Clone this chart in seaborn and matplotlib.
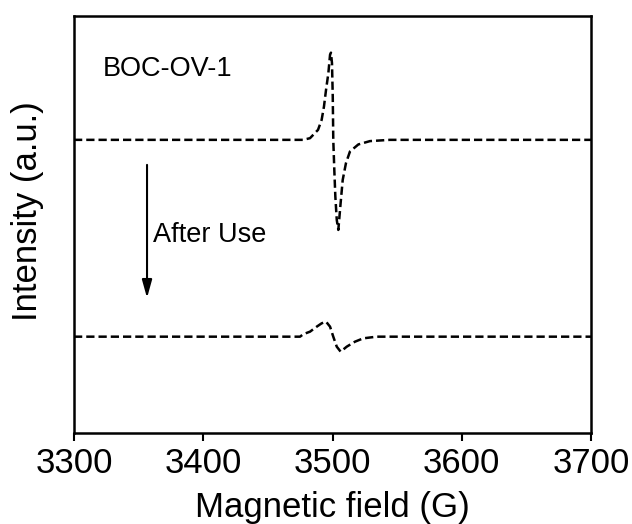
import matplotlib
matplotlib.use("Agg")
import matplotlib.pyplot as plt
import seaborn as sns
import pandas as pd

# ---- data ----
field_before = [3300, 3400, 3460, 3477.2, 3482.6, 3488.8, 3491.6, 3493.4, 3495.0, 3496.8,
                3498.1, 3498.8, 3499.6, 3500.2, 3500.6, 3501.4, 3502.2, 3503.3, 3504.5,
                3506.3, 3507.9, 3510.4, 3513.5, 3520.0, 3529.0, 3544.5, 3600, 3700]
int_before = [70.3, 70.3, 70.3, 70.3, 70.7, 72.7, 75.1, 78.3, 82.3, 86.3,
              90.7, 91.2, 88.7, 80.7, 70.3, 63.1, 56.7, 51.1, 48.7,
              55.2, 60.7, 64.7, 67.5, 69.2, 70.0, 70.3, 70.3, 70.3]

field_after = [3300, 3400, 3474.9, 3477.4, 3482.6, 3487.8, 3491.6, 3495.0, 3498.1,
               3500.6, 3503.3, 3506.3, 3511.0, 3517.4, 3523.8, 3534.2, 3600, 3700]
int_after = [23.1, 23.1, 23.1, 23.7, 24.3, 25.5, 26.3, 26.7, 25.5,
             23.1, 20.7, 19.5, 20.7, 21.9, 22.7, 23.1, 23.1, 23.1]

x_ticks = [3300, 3400, 3500, 3600, 3700]
x_label = "Magnetic field (G)"
y_label = "Intensity (a.u.)"
sample_label = "BOC-OV-1"
arrow_label = "After Use"

# ---- style ----
sns.set_theme(style="ticks")
plt.rcParams["font.family"] = ["Liberation Sans", "DejaVu Sans"]

fig = plt.figure(figsize=(6.32, 5.24), dpi=100)
ax = fig.add_axes([74 / 632, 1 - 433 / 524, (591 - 74) / 632, (433 - 16) / 524])

df_b = pd.DataFrame({"field": field_before, "intensity": int_before})
df_a = pd.DataFrame({"field": field_after, "intensity": int_after})
for df in (df_b, df_a):
    sns.lineplot(data=df, x="field", y="intensity", ax=ax, color="black",
                 linestyle=(0, (3.3, 1.6)), linewidth=1.8, estimator=None, sort=False)

ax.set_xlim(3300, 3700)
ax.set_ylim(0, 100)
ax.set_xticks(x_ticks)
ax.set_xticklabels([str(t) for t in x_ticks], fontsize=25)
ax.set_yticks([])
ax.tick_params(axis="x", direction="out", length=6, width=1.5, pad=4, colors="black")
for s in ax.spines.values():
    s.set_linewidth(1.8)
    s.set_color("black")
    s.set_visible(True)

ax.set_xlabel(x_label, fontsize=25, labelpad=8, color="black")
ax.set_ylabel(y_label, fontsize=25, color="black")
ax.yaxis.set_label_coords(-0.058, 0.531)

ax.text(3322.4, 85.6, sample_label, fontsize=19.5, ha="left", va="baseline", color="black")
ax.text(3361.1, 45.8, arrow_label, fontsize=19.5, ha="left", va="baseline", color="black")
ax.annotate("", xy=(3356.5, 32.4), xytext=(3356.5, 64.3),
            arrowprops=dict(arrowstyle="-|>,head_length=0.9,head_width=0.25",
                            color="black", lw=1.5, shrinkA=0, shrinkB=0))

fig.savefig("out.png", dpi=100, facecolor="white")
